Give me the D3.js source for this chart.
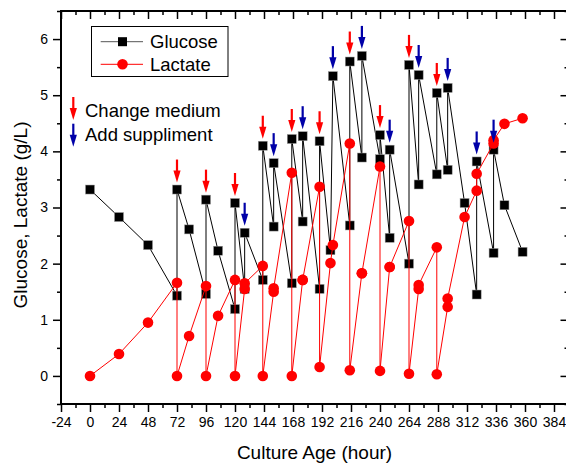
<!DOCTYPE html>
<html>
<head>
<meta charset="utf-8">
<script src="https://cdn.jsdelivr.net/npm/d3@7"></script>
<style>
    body { margin: 0; background: #fff; }
    svg { display: block; font-family: 'Liberation Sans', Arial, sans-serif; }
</style>
</head>
<body>
<svg id="chart"></svg>
<script>
// culture hours, paired entries = before / after a feed
const hours = [0, 24, 48, 72, 72, 82, 96, 96, 106, 120, 120, 128, 128, 143, 143, 152, 152,
    167, 167, 176, 176, 190, 190, 199, 201, 215, 215, 225, 225, 240, 240, 248, 248,
    264, 264, 272, 272, 287, 287, 296, 296, 310, 320, 320, 334, 334, 343, 358];

const glucose = [3.32, 2.83, 2.33, 1.43, 3.32, 2.61, 1.46, 3.14, 2.23, 1.19, 3.08, 1.55, 2.55,
    1.71, 4.10, 2.66, 3.79, 1.65, 4.22, 2.75, 4.27, 1.55, 4.18, 2.24, 5.34, 2.68, 5.60,
    3.89, 5.70, 3.86, 4.29, 2.46, 4.03, 2.00, 5.54, 3.41, 5.36, 3.59, 5.04, 3.67, 5.13,
    3.08, 1.45, 3.82, 2.19, 4.03, 3.04, 2.21];

const lactate = [0, 0.39, 0.95, 1.66, 0, 0.71, 1.60, 0, 1.07, 1.71, 0, 1.55, 1.65,
    1.96, 0, 1.50, 1.56, 3.62, 0, 1.71, 1.71, 3.37, 0.16, 2.01, 2.33, 4.14, 0.10,
    1.83, 1.83, 3.73, 0.09, 1.94, 1.94, 2.76, 0.04, 1.55, 1.62, 2.29, 0.03, 1.23, 1.38,
    2.83, 3.30, 3.60, 4.14, 4.20, 4.49, 4.59];

const changeAt = [72, 96, 120, 143, 167, 190, 215, 240, 264, 287];
const supplAt = [128, 152, 176, 201, 225, 248, 272, 296, 320, 334];

const xTicks = d3.range(-24, 385, 24);
const yTicks = [0, 1, 2, 3, 4, 5, 6];

const width = 566, height = 466;
const margin = { left: 61, top: 11, right: -2.5, bottom: 62 };
const red = '#ff0000', blue = '#0000a8';

const svg = d3.select('#chart')
    .attr('width', width)
    .attr('height', height);

const x = d3.scaleLinear().domain([-24, 396]).range([margin.left, width - margin.right]);
const y = d3.scaleLinear().domain([-0.5, 6.5]).range([height - margin.bottom, margin.top]);

const points = hours.map((h, i) => ({ h, g: glucose[i], l: lactate[i] }));

// plain hyphen, no decimals
const fmt = (d) => String(d);

// axes, mirrored on all four sides
const drawAxis = (axis, tx, ty) => {
    const g = svg.append('g').attr('transform', `translate(${tx},${ty})`).call(axis);
    g.select('.domain').remove();
    g.selectAll('line').attr('stroke', '#000').attr('stroke-width', 1.5);
    g.selectAll('text')
        .attr('font-size', 14)
        .attr('fill', '#000');
    return g;
};

const xMinor = d3.range(-24, 397, 12).filter((v) => v % 24 !== 0);
const yMinor = d3.range(-0.5, 6.6, 0.5).filter((v) => !Number.isInteger(v));

// bottom
drawAxis(d3.axisBottom(x).tickValues(xTicks).tickSize(8).tickPadding(5).tickFormat(fmt), 0, y.range()[0]);
drawAxis(d3.axisBottom(x).tickValues(xMinor).tickSize(4).tickFormat(''), 0, y.range()[0]);
// top (inward)
drawAxis(d3.axisBottom(x).tickValues(xTicks).tickSize(8).tickFormat(''), 0, y.range()[1]);
drawAxis(d3.axisBottom(x).tickValues(xMinor).tickSize(4).tickFormat(''), 0, y.range()[1]);
// left
drawAxis(d3.axisLeft(y).tickValues(yTicks).tickSize(8).tickPadding(5).tickFormat(fmt), x.range()[0], 0);
drawAxis(d3.axisLeft(y).tickValues(yMinor).tickSize(4).tickFormat(''), x.range()[0], 0);
// right (inward)
drawAxis(d3.axisLeft(y).tickValues(yTicks).tickSize(8).tickFormat(''), x.range()[1], 0);
drawAxis(d3.axisLeft(y).tickValues(yMinor).tickSize(4).tickFormat(''), x.range()[1], 0);

svg.append('rect')
    .attr('x', x.range()[0])
    .attr('y', y.range()[1])
    .attr('width', x.range()[1] - x.range()[0])
    .attr('height', y.range()[0] - y.range()[1])
    .attr('fill', 'none')
    .attr('stroke', '#000')
    .attr('stroke-width', 2);

// axis titles
svg.append('text')
    .attr('x', (x.range()[0] + 568) / 2)
    .attr('y', 459)
    .attr('text-anchor', 'middle')
    .attr('font-size', 19)
    .text('Culture Age (hour)');

svg.append('text')
    .attr('transform', `translate(27,${215}) rotate(-90)`)
    .attr('text-anchor', 'middle')
    .attr('font-size', 19)
    .text('Glucose, Lactate (g/L)');

// series
const line = (key) => d3.line().x((d) => x(d.h)).y((d) => y(d[key]));

svg.append('path')
    .datum(points)
    .attr('d', line('g'))
    .attr('fill', 'none')
    .attr('stroke', '#000')
    .attr('stroke-width', 1);

svg.selectAll('.sq').data(points).enter()
    .append('rect')
    .attr('class', 'sq')
    .attr('x', (d) => x(d.h) - 4.5)
    .attr('y', (d) => y(d.g) - 4.5)
    .attr('width', 9)
    .attr('height', 9)
    .attr('fill', '#000')
    .attr('stroke', '#999')
    .attr('stroke-width', 0.5);

svg.append('path')
    .datum(points)
    .attr('d', line('l'))
    .attr('fill', 'none')
    .attr('stroke', red)
    .attr('stroke-width', 1);

svg.selectAll('.dot').data(points).enter()
    .append('circle')
    .attr('class', 'dot')
    .attr('cx', (d) => x(d.h))
    .attr('cy', (d) => y(d.l))
    .attr('r', 5.3)
    .attr('fill', red);

// arrows above the fed glucose value
const drawArrow = (cx, tipY, color) => {
    svg.append('line')
        .attr('x1', cx).attr('x2', cx)
        .attr('y1', tipY - 23).attr('y2', tipY - 9)
        .attr('stroke', color)
        .attr('stroke-width', 2.2);
    svg.append('path')
        .attr('d', `M${cx - 3.6},${tipY - 12}L${cx + 3.6},${tipY - 12}L${cx},${tipY}Z`)
        .attr('fill', color);
};

const fedValue = (h) => d3.max(points.filter((d) => d.h === h), (d) => d.g);

changeAt.forEach((h) => drawArrow(x(h), y(fedValue(h)) - 7, red));
supplAt.forEach((h) => drawArrow(x(h), y(fedValue(h)) - 7, blue));

// legend
const legend = svg.append('g');
legend.append('rect')
    .attr('x', 91.5).attr('y', 26.5)
    .attr('width', 136.5).attr('height', 50)
    .attr('fill', '#fff')
    .attr('stroke', '#000')
    .attr('stroke-width', 1);

const items = [
    { name: 'Glucose', color: '#000', shape: 'square', cy: 41.7 },
    { name: 'Lactate', color: red, shape: 'circle', cy: 64.3 }
];
items.forEach((it) => {
    legend.append('line')
        .attr('x1', 100.7).attr('x2', 143)
        .attr('y1', it.cy).attr('y2', it.cy)
        .attr('stroke', it.shape === 'square' ? '#555' : red)
        .attr('stroke-width', 1);
    if (it.shape === 'square') {
        legend.append('rect')
            .attr('x', 122.5 - 4.5).attr('y', it.cy - 4.5)
            .attr('width', 9).attr('height', 9)
            .attr('fill', '#000');
    } else {
        legend.append('circle')
            .attr('cx', 122.5).attr('cy', it.cy)
            .attr('r', 5.3)
            .attr('fill', red);
    }
    legend.append('text')
        .attr('x', 150)
        .attr('y', it.cy + 6.6)
        .attr('font-size', 18.5)
        .text(it.name);
});

drawArrow(73.3, 120, red);
drawArrow(73.3, 146.7, blue);
legend.append('text').attr('x', 85).attr('y', 117.3).attr('font-size', 18.5).text('Change medium');
legend.append('text').attr('x', 85).attr('y', 140.5).attr('font-size', 18.5).text('Add suppliment');
</script>
</body>
</html>
